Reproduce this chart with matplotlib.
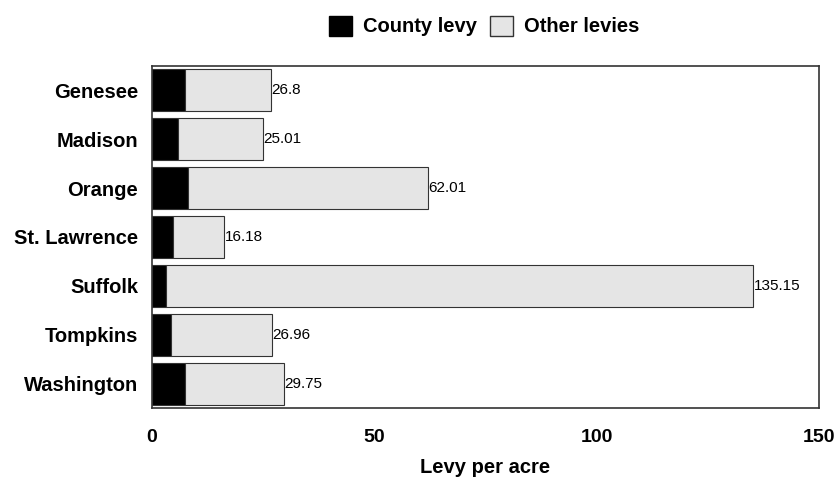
import numpy as np
import matplotlib.pyplot as plt
from matplotlib.patches import Patch

# Data
counties = ["Genesee", "Madison", "Orange", "St. Lawrence", "Suffolk", "Tompkins", "Washington"]
county_levy = [7.4, 5.9, 8.2, 4.8, 3.2, 4.2, 7.4]
total_levy = [26.8, 25.01, 62.01, 16.18, 135.15, 26.96, 29.75]
other_levy = [t - c for t, c in zip(total_levy, county_levy)]
x_ticks = [0, 50, 100, 150]

plt.rcParams['font.family'] = ['Liberation Sans', 'DejaVu Sans']

fig = plt.figure(figsize=(8.39, 4.80), dpi=100)
ax = fig.add_axes([152 / 839, 1 - 408 / 480, (819 - 152) / 839, (408 - 66) / 480])

y = np.arange(len(counties))
h = 0.86
ax.barh(y, county_levy, height=h, color='black', edgecolor='#333333', linewidth=0.8)
ax.barh(y, other_levy, left=county_levy, height=h, color='#e5e5e5',
        edgecolor='#333333', linewidth=0.8)

for yi, t in zip(y, total_levy):
    ax.text(t + 0.1, yi, f"{t:g}", va='center', ha='left', fontsize=11)

ax.set_xlim(0, 150)
ax.set_ylim(len(counties) - 0.5, -0.5)
ax.set_yticks(y)
ax.set_yticklabels(counties, fontsize=14.5, fontweight='bold')
ax.set_xticks(x_ticks)
ax.set_xticklabels([str(v) for v in x_ticks], fontsize=14, fontweight='bold')
ax.tick_params(length=0)
ax.tick_params(axis='x', pad=15)
ax.tick_params(axis='y', pad=10)
for s in ax.spines.values():
    s.set_color('#333333')
    s.set_linewidth(1.2)

ax.set_xlabel("Levy per acre", fontsize=14.5, fontweight='bold', labelpad=9)

handles = [Patch(facecolor='black', edgecolor='black', label='County levy'),
           Patch(facecolor='#e5e5e5', edgecolor='#333333', label='Other levies')]
fig.legend(handles=handles, loc='center', bbox_to_anchor=(484 / 839, 1 - 26 / 480),
           ncol=2, frameon=False, prop={'weight': 'bold', 'size': 14.5},
           handlelength=1.15, handleheight=1.15, handletextpad=0.55, columnspacing=0.65)

fig.savefig("out.png", dpi=100)
